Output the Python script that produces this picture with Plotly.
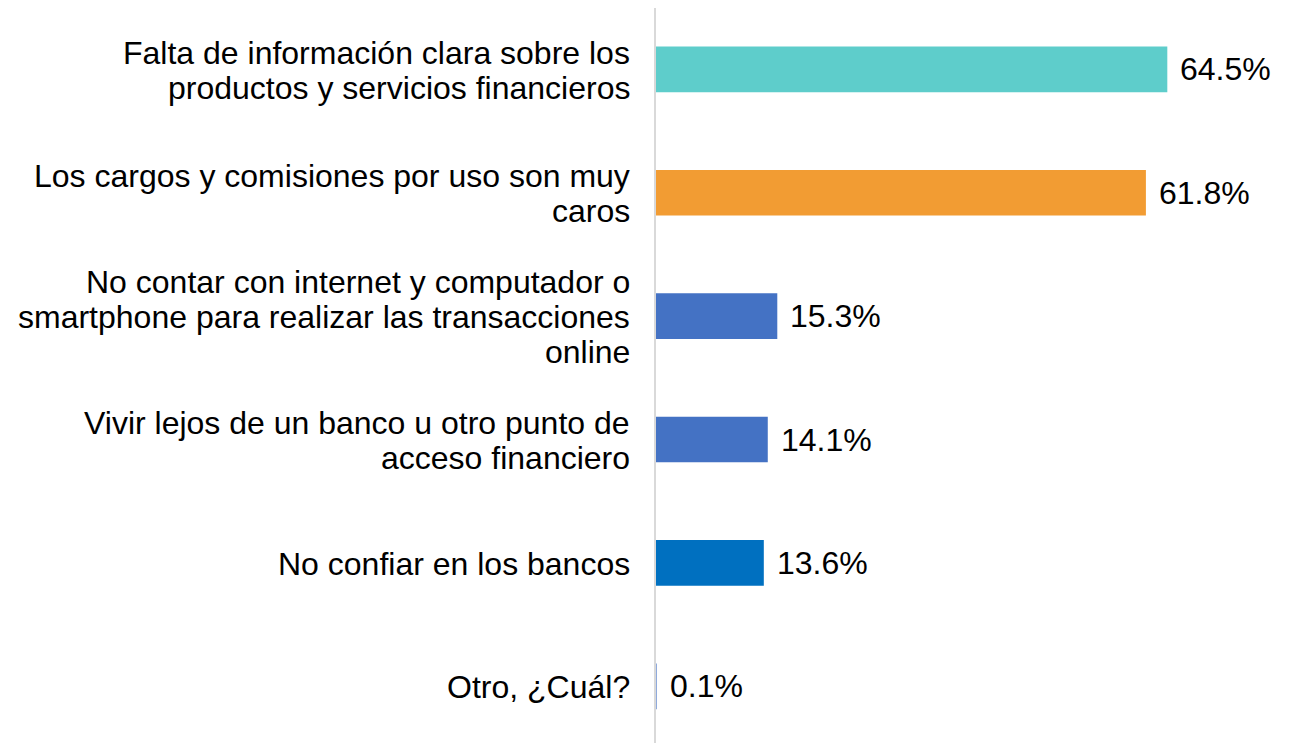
import plotly.graph_objects as go

# datos del gráfico (de arriba hacia abajo)
categorias = [
    "Falta de información clara sobre los<br>productos y servicios financieros",
    "Los cargos y comisiones por uso son muy<br>caros",
    "No contar con internet y computador o<br>smartphone para realizar las transacciones<br>online",
    "Vivir lejos de un banco u otro punto de<br>acceso financiero",
    "No confiar en los bancos",
    "Otro, ¿Cuál?",
]
valores = [64.5, 61.8, 15.3, 14.1, 13.6, 0.1]
etiquetas = ["64.5%", "61.8%", "15.3%", "14.1%", "13.6%", "0.1%"]
colores = ["#5ECDCB", "#F29C33", "#4472C4", "#4472C4", "#0070C0", "#8FAADC"]

FUENTE = "Liberation Sans, Arial, sans-serif"
TAM = 32
INTERLINEA = 35

posiciones = list(range(len(categorias)))

fig = go.Figure(
    go.Bar(
        x=valores,
        y=posiciones,
        orientation="h",
        width=0.37,
        marker=dict(color=colores, line=dict(width=0)),
        hoverinfo="skip",
    )
)

anotaciones = []
# etiquetas de categoría, una anotación por línea para controlar el interlineado
for pos, cat in zip(posiciones, categorias):
    lineas = cat.split("<br>")
    n = len(lineas)
    for i, linea in enumerate(lineas):
        anotaciones.append(dict(
            xref="paper", x=0, yref="y", y=pos,
            text=linea, showarrow=False,
            xanchor="right", yanchor="middle", xshift=-24,
            yshift=((n - 1) / 2 - i) * INTERLINEA - 1,
            font=dict(family=FUENTE, size=TAM, color="#000000"),
        ))

# etiquetas de valor a la derecha de cada barra
for pos, val, txt in zip(posiciones, valores, etiquetas):
    anotaciones.append(dict(
        xref="x", x=val, yref="y", y=pos,
        text=txt, showarrow=False,
        xanchor="left", yanchor="middle", xshift=11,
        font=dict(family=FUENTE, size=TAM, color="#000000"),
    ))

fig.update_layout(
    width=1289,
    height=743,
    margin=dict(l=648, r=0, t=0, b=0),
    plot_bgcolor="white",
    paper_bgcolor="white",
    showlegend=False,
    annotations=anotaciones,
    xaxis=dict(range=[0, 80.86], visible=False, fixedrange=True),
    yaxis=dict(
        range=[5.524, -0.497],
        showticklabels=False,
        showgrid=False,
        zeroline=False,
        showline=True,
        linecolor="#D9D9D9",
        linewidth=2,
        ticks="",
    ),
)

fig.write_html("out.html")
